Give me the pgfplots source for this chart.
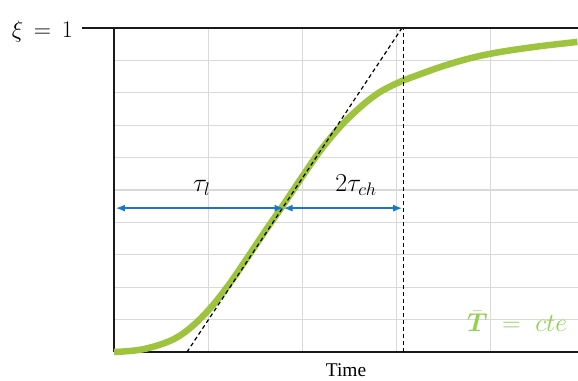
\RequirePackage{fix-cm}
\documentclass[border=0pt]{standalone}
\usepackage{amsmath}
\usepackage{amssymb}
\usepackage{fontspec}
\setmainfont{Liberation Serif}
\usepackage{pgfplots}
\pgfplotsset{compat=1.18}
\usetikzlibrary{arrows.meta}

\definecolor{curvegreen}{RGB}{158,196,63}
\definecolor{textgreen}{RGB}{146,208,80}
\definecolor{arrowblue}{RGB}{25,118,200}
\definecolor{gridgray}{RGB}{217,217,217}

\begin{document}
\begin{tikzpicture}
\useasboundingbox (0,0) rectangle (578bp,381bp);
\begin{axis}[
  at={(114bp,29bp)}, anchor=south west,
  scale only axis, width=464bp, height=324bp,
  xmin=0, xmax=4.926, ymin=0, ymax=1,
  axis x line*=bottom, axis y line*=left,
  x axis line style={line width=2bp, black!90},
  y axis line style={line width=1.5bp, black!90},
  xtick={0,1,2,3,4,5}, ytick={0,0.1,...,1},
  xticklabels={}, yticklabels={},
  major tick length=0pt,
  grid=major, major grid style={gridgray, line width=1.3bp},
  xlabel={Time},
  xlabel style={at={(axis description cs:0.5,0)}, anchor=base, yshift=-25bp,
    font=\fontsize{19.5}{22}\selectfont},
  clip=false,
]
% S-shaped conversion curve
\addplot[curvegreen, line width=6.5bp, smooth, tension=0.6] coordinates {
(0,0.000)(0.3,0.008)(0.6,0.035)(0.8,0.072)(1.0,0.128)(1.2,0.200)
(1.4,0.284)(1.6,0.371)(1.8,0.455)(2.0,0.542)(2.2,0.625)(2.4,0.695)
(2.6,0.752)(2.8,0.798)(3.0,0.829)(3.2,0.852)(3.5,0.883)(3.8,0.908)
(4.1,0.926)(4.5,0.943)(4.92,0.957)};
% tangent at the inflection point
\addplot[black, line width=1.2bp, dash pattern=on 4bp off 3bp] coordinates {(0.775,0)(3.057,1)};
\addplot[black, line width=1.2bp, dash pattern=on 4bp off 3bp] coordinates {(3.07,0)(3.07,1)};
% time scales
\addplot[arrowblue, line width=1.5bp,
  arrows={Latex[length=9bp,width=7bp]-Latex[length=9bp,width=7bp]}] coordinates {(0.02,0.444)(1.80,0.444)};
\addplot[arrowblue, line width=1.5bp,
  arrows={Latex[length=9bp,width=7bp]-Latex[length=9bp,width=7bp]}] coordinates {(1.80,0.444)(3.06,0.444)};
% top line and its extension to the label
\draw[black!90, line width=1.5bp] (axis cs:-0.34,1) -- (axis cs:4.926,1);
\node[anchor=base east, font=\fontsize{24}{28}\selectfont] at (axis cs:-0.40,0.972) {$\xi\,=\,1$};
\node[anchor=base, font=\fontsize{26}{30}\selectfont] at (axis cs:0.93,0.494) {$\tau_l$};
\node[anchor=base, font=\fontsize{26}{30}\selectfont] at (axis cs:2.57,0.494) {$2\tau_{ch}$};
\node[anchor=base, font=\fontsize{26}{30}\selectfont, text=textgreen] at (axis cs:4.28,0.062)
  {$\bar{\boldsymbol{T}}\;=\;cte$};
\end{axis}
\end{tikzpicture}
\end{document}
